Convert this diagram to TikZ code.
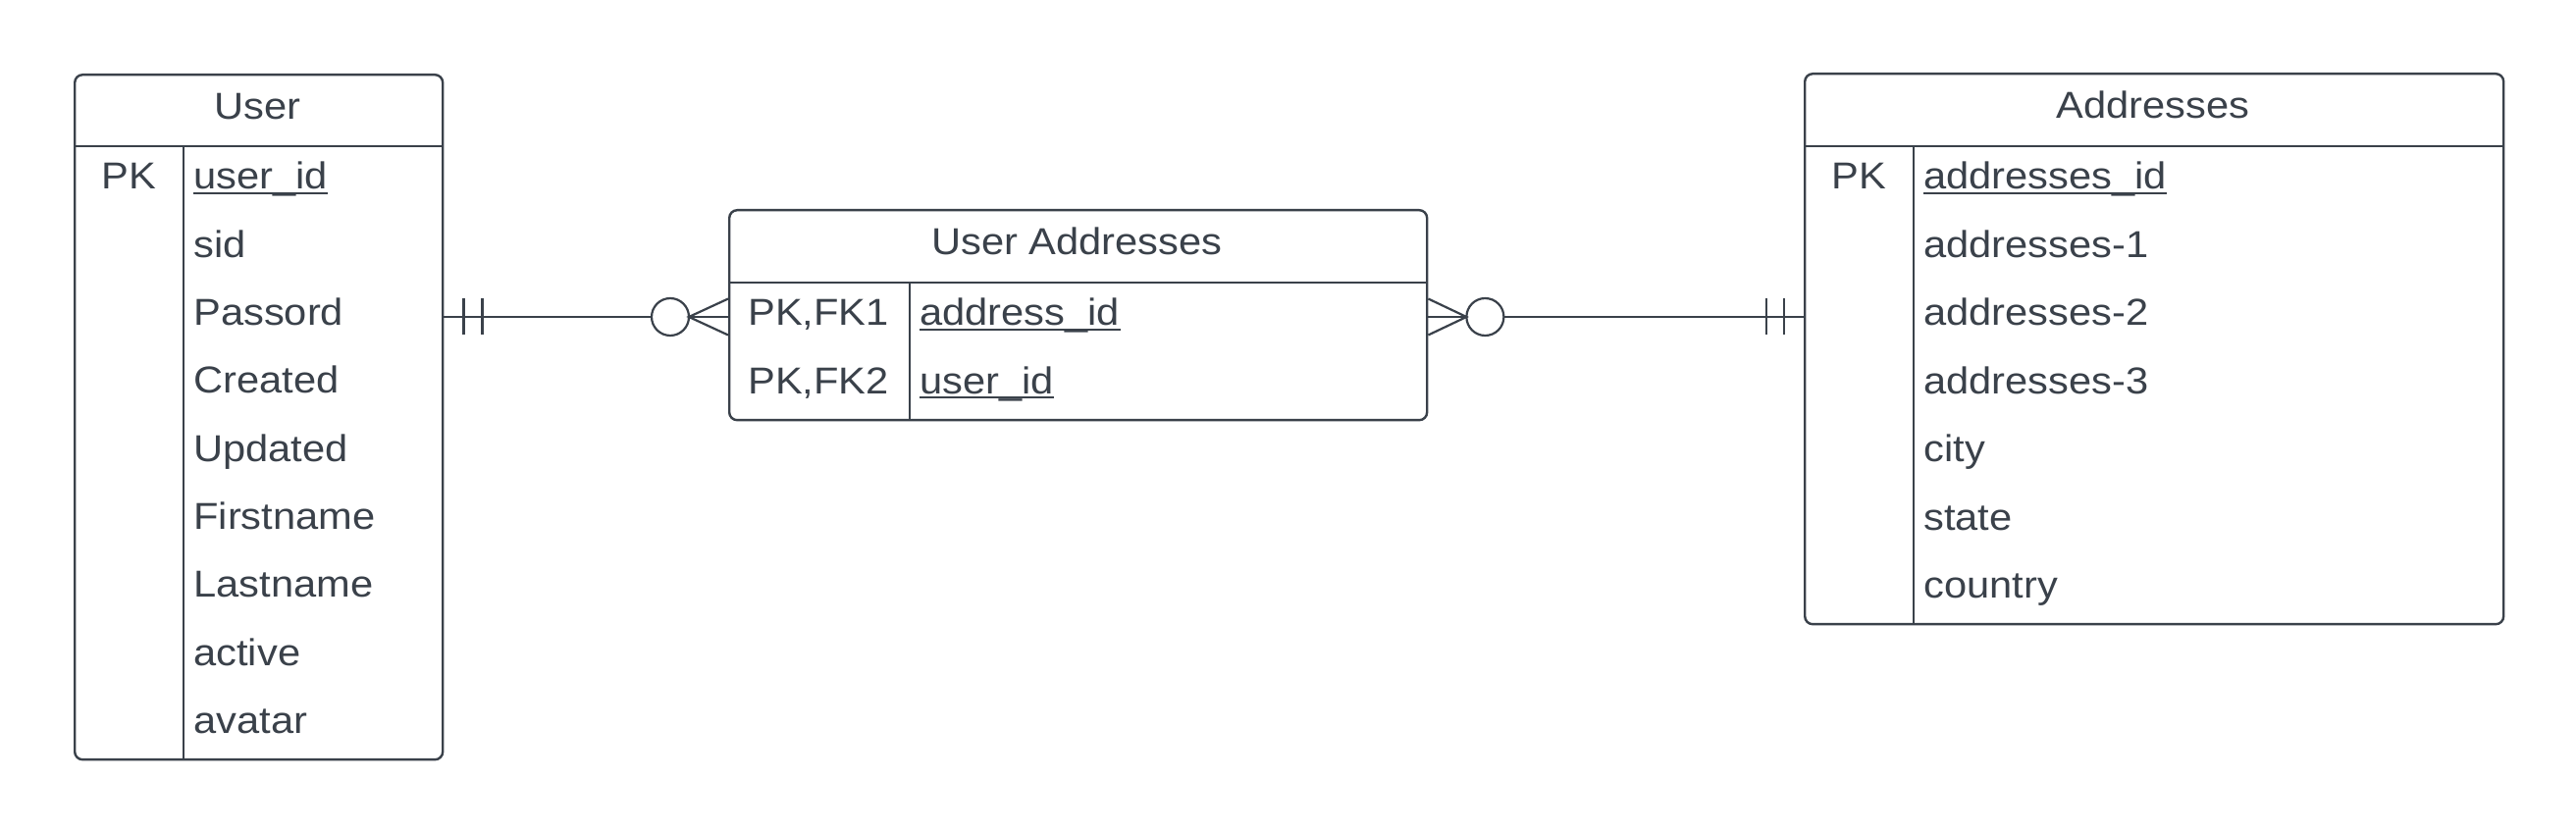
\documentclass[tikz,border=0pt]{standalone}
\usepackage{fontspec}
\setmainfont[FakeStretch=1.09]{Liberation Sans}
\usetikzlibrary{calc}
\definecolor{ink}{HTML}{3A414A}
\begin{document}
\begin{tikzpicture}[x=0.5pt,y=-0.5pt,
  tbl/.style={draw=ink, line width=1.2pt, rounded corners=4pt, inner sep=0pt, anchor=north west},
  sep/.style={draw=ink, line width=1.1pt},
  col/.style={draw=ink, line width=0.6pt},
  txt/.style={inner sep=0pt, text=ink, font=\fontsize{19.1pt}{22pt}\selectfont},
  fld/.style={txt, anchor=base west},
  key/.style={txt, anchor=base},
  ul/.style={draw=ink, line width=1pt},
  conn/.style={draw=ink, line width=1.1pt},
  thinconn/.style={draw=ink, line width=0.6pt},
  bar/.style={draw=ink, line width=1.3pt},
]
\fill[white] (0,0) rectangle (2625,849);
\useasboundingbox (0,0) rectangle (2625,849);

% ---------- User ----------
\node[tbl, minimum width=187.5pt, minimum height=349pt] (user) at (75,75) {};
\draw[sep] (user.west |- 0,149) -- (user.east |- 0,149);
\draw[col] (187,149) -- (user.south -| 187,0);
\node[key] (ut) at (262.5,122) {User};
\node[key] (uk0) at (131,193) {PK};
\node[fld] (uf0) at (197,193) {user\_id};
\node[fld] (uf1) at (197,262.3) {sid};
\node[fld] (uf2) at (197,331.7) {Passord};
\node[fld] (uf3) at (197,401) {Created};
\node[fld] (uf4) at (197,470.3) {Updated};
\node[fld] (uf5) at (197,539.7) {Firstname};
\node[fld] (uf6) at (197,609) {Lastname};
\node[fld] (uf7) at (197,678.3) {active};
\node[fld] (uf8) at (197,747.7) {avatar};
\draw[ul] ([yshift=-1.8pt]uf0.base west) -- ([yshift=-1.8pt]uf0.base east);

% ---------- User Addresses ----------
\node[tbl, minimum width=355.5pt, minimum height=107pt] (ua) at (742,213) {};
\draw[sep] (ua.west |- 0,288) -- (ua.east |- 0,288);
\draw[col] (927,288) -- (ua.south -| 927,0);
\node[key] (uat) at (1097.5,260) {User Addresses};
\node[key] (uak0) at (834,332) {PK,FK1};
\node[key] (uak1) at (834,401.5) {PK,FK2};
\node[fld] (uaf0) at (937,332) {address\_id};
\node[fld] (uaf1) at (937,401.5) {user\_id};
\draw[ul] ([yshift=-1.8pt]uaf0.base west) -- ([yshift=-1.8pt]uaf0.base east);
\draw[ul] ([yshift=-1.8pt]uaf1.base west) -- ([yshift=-1.8pt]uaf1.base east);

% ---------- Addresses ----------
\node[tbl, minimum width=356pt, minimum height=280.5pt] (addr) at (1838,74) {};
\draw[sep] (addr.west |- 0,149) -- (addr.east |- 0,149);
\draw[col] (1950,149) -- (addr.south -| 1950,0);
\node[key] (at) at (2194,121) {Addresses};
\node[key] (ak0) at (1894,193) {PK};
\node[fld] (af0) at (1960,193) {addresses\_id};
\node[fld] (af1) at (1960,262.4) {addresses-1};
\node[fld] (af2) at (1960,331.9) {addresses-2};
\node[fld] (af3) at (1960,401.3) {addresses-3};
\node[fld] (af4) at (1960,470.7) {city};
\node[fld] (af5) at (1960,540.2) {state};
\node[fld] (af6) at (1960,609.6) {country};
\draw[ul] ([yshift=-1.8pt]af0.base west) -- ([yshift=-1.8pt]af0.base east);

% ---------- Connector User -- User Addresses ----------
\coordinate (a1) at (user.east |- 0,323);
\coordinate (a2) at (ua.west |- 0,323);
\draw[thinconn] (a1) -- ($(a1)+(145,0)$);
\draw[conn] ($(a1)+(145,0)$) -- ($(a2)+(-78,0)$);
\draw[bar] ($(a1)+(20,-18.5)$) -- ($(a1)+(20,18.5)$);
\draw[bar] ($(a1)+(39,-18.5)$) -- ($(a1)+(39,18.5)$);
\draw[conn] ($(a2)+(-59,0)$) circle[radius=9.5pt];
\draw[conn] ($(a2)+(0,-18.5)$) -- ($(a2)+(-40,0)$) -- ($(a2)+(0,18.5)$);
\draw[conn] ($(a2)+(-40,0)$) -- (a2);

% ---------- Connector User Addresses -- Addresses ----------
\coordinate (a3) at (ua.east |- 0,323);
\coordinate (a4) at (addr.west |- 0,323);
\draw[conn] ($(a3)+(0,-18.5)$) -- ($(a3)+(39,0)$) -- ($(a3)+(0,18.5)$);
\draw[conn] (a3) -- ($(a3)+(39,0)$);
\draw[conn] ($(a3)+(58,0)$) circle[radius=9.5pt];
\draw[conn] ($(a3)+(77,0)$) -- (a4);
\draw[bar] ($(a4)+(-38,-18.5)$) -- ($(a4)+(-38,18.5)$);
\draw[bar] ($(a4)+(-20,-18.5)$) -- ($(a4)+(-20,18.5)$);
\end{tikzpicture}
\end{document}
